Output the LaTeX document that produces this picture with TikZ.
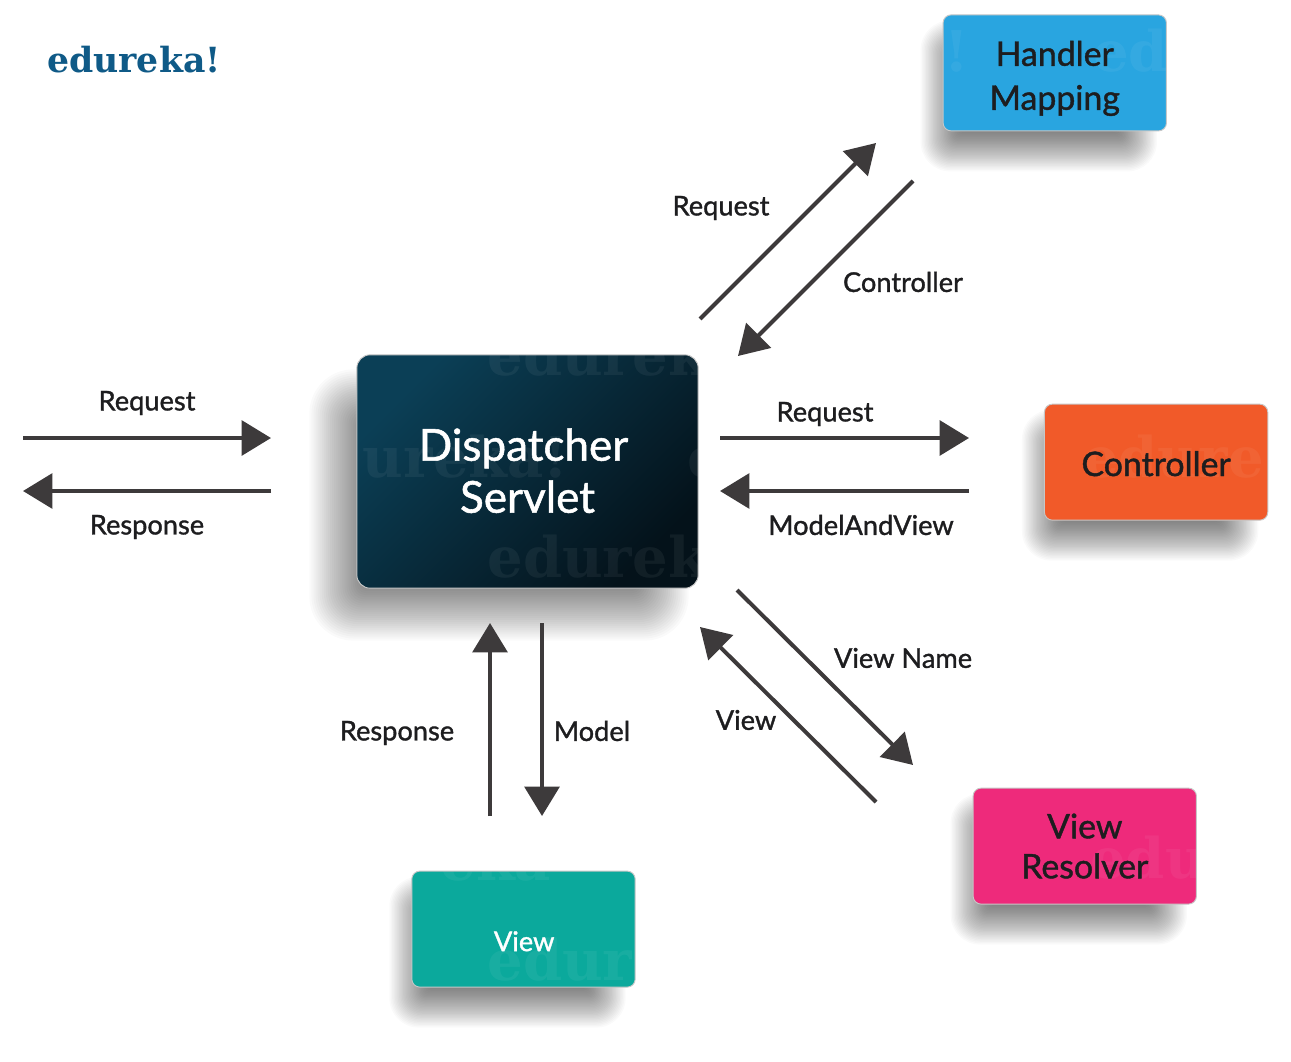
\documentclass[tikz,border=0pt]{standalone}
\usepackage{fontspec}
\usepackage{xcolor}
\usepackage{tikz}
\usetikzlibrary{arrows.meta,positioning,calc,backgrounds}
\setmainfont{Lato}[FakeBold=1.2]
\newfontfamily\slabfont{DejaVu Serif}[BoldFont={DejaVu Serif Bold}]
\definecolor{arrowgray}{HTML}{3D3A3B}
\definecolor{labelink}{HTML}{1D1D1F}
\definecolor{logoblue}{HTML}{0F5A87}
\definecolor{mapblue}{HTML}{29A5E0}
\definecolor{ctrlorange}{HTML}{F15A29}
\definecolor{resolvepink}{HTML}{EE2A7B}
\definecolor{viewteal}{HTML}{0BA99C}
\definecolor{dispA}{HTML}{0B3F56}
\definecolor{dispB}{HTML}{0A3549}
\definecolor{dispC}{HTML}{04121A}
% soft shadow: node, left/top/right/bottom offsets, blur
\newcommand{\softshadow}[6]{
  \foreach \i in {0,...,29}{
    \pgfmathsetmacro{\b}{#6*(1-\i/14.5)}
    \pgfmathsetmacro{\r}{max(3,(#6+\b)*.55)}
    \fill[black, opacity=.019, rounded corners=\r pt]
      ($(#1.north west)+(#2-\b,#3-\b)$) rectangle ($(#1.south east)+(#4+\b,#5+\b)$);
  }
}
% faint word clipped by its box
\newcommand{\wmark}[4]{\node[wm] (#1) at ($(path picture bounding box.center)+(#2,#3)$) {#4};}
\begin{document}
\begin{tikzpicture}[
  x=0.75pt, y=-0.75pt,
  box/.style={draw=white!78!black, line width=.7pt, rounded corners=6pt, align=center, font=\fontsize{25.4}{33}\selectfont, text=labelink, minimum width=167.5pt, minimum height=87pt, inner sep=0pt},
  wm/.style={font=\slabfont\bfseries\fontsize{42}{42}\selectfont, text=white, text opacity=.055, inner sep=0pt, anchor=base west, minimum width=0pt, minimum height=0pt, draw=none},
  lab/.style={font=\fontsize{20.4}{24}\selectfont, text=labelink, inner sep=0pt},
  ar/.style={-{Triangle[length=22pt, width=26pt]}, line width=3pt, draw=arrowgray}]
  \useasboundingbox (0,0) rectangle (1291,1062);
  \node[font=\slabfont\bfseries\fontsize{26}{26}\selectfont, text=logoblue, inner sep=0pt] (logo) at (134,60) {edureka!};
  % boxes
  \node[box, minimum width=256pt, minimum height=175pt, rounded corners=10pt, font=\fontsize{33}{39}\selectfont, text=white,
    top color=dispA, middle color=dispB, bottom color=dispC, shading angle=45,
    path picture={
      \wmark{dw1}{-40.5}{-96.5}{edurek}
      \wmark{dw2}{-40.5}{105.5}{edurek}
      \wmark{dw3}{-165}{5.5}{ureka!}
      \wmark{dw4}{160}{5.5}{e}
    }] (disp) at (527.5,471.5) {Dispatcher\hspace*{6pt}\\Servlet\rule[-1.5pt]{0pt}{1pt}};
  \node[box, fill=mapblue, above right=167.25pt and 183pt of disp,
    path picture={
      \wmark{hw1}{38}{-1}{ed}
      \wmark{hw2}{-111}{-1}{!}
    }] (hmap) {\rule{0pt}{27pt}Handler\\Mapping};
  \node[box, fill=ctrlorange, right=259pt of disp, yshift=7pt,
    path picture={\wmark{cw1}{-73.5}{15}{edure}}] (ctrl) {\rule{0pt}{21pt}Controller};
  \node[box, fill=resolvepink, below right=149.25pt and 205.5pt of disp,
    path picture={\wmark{rw1}{5}{32}{edu}}] (vres) {View\\[-3pt]Resolver};
  \node[box, fill=viewteal, below=211.5pt of disp, xshift=-3pt, font=\fontsize{20.4}{24}\selectfont, text=white,
    path picture={
      \wmark{vw1}{-36.5}{51}{edur}
      \wmark{vw2}{-83.5}{-49}{eka}
    }] (view) {\hspace*{1pt}\raisebox{-16.5pt}[0pt][0pt]{View}};
  % shadows
  \begin{scope}[on background layer]
    \fill[white] (0,0) rectangle (1291,1062);
    \softshadow{disp}{-17}{45}{-40}{22}{30}
    \softshadow{hmap}{-2}{26}{-30}{20}{20}
    \softshadow{ctrl}{-2}{26}{-30}{20}{20}
    \softshadow{vres}{-2}{26}{-30}{20}{20}
    \softshadow{view}{-2}{26}{-30}{20}{20}
  \end{scope}
  % arrow ends
  \coordinate (inA) at (23,438);
  \coordinate (inB) at (271,438);
  \coordinate (outA) at (271,491);
  \coordinate (outB) at (23,491);
  \coordinate (reqA) at (720,438);
  \coordinate (reqB) at (969,438);
  \coordinate (mavA) at (969,491);
  \coordinate (mavB) at (720,491);
  \coordinate (hreqA) at (700,319);
  \coordinate (hreqB) at (876,143);
  \coordinate (hctlA) at (913,181);
  \coordinate (hctlB) at (738,356);
  \coordinate (vnamA) at (737,590);
  \coordinate (vnamB) at (913,765);
  \coordinate (vretA) at (876,802);
  \coordinate (vretB) at (700,627);
  \coordinate (respA) at (490,816);
  \coordinate (respB) at (490,623);
  \coordinate (modlA) at (542,623);
  \coordinate (modlB) at (542,816);
  \draw[ar] (inA) -- (inB);
  \draw[ar] (outA) -- (outB);
  \draw[ar] (reqA) -- (reqB);
  \draw[ar] (mavA) -- (mavB);
  \draw[ar] (hreqA) -- (hreqB);
  \draw[ar] (hctlA) -- (hctlB);
  \draw[ar] (vnamA) -- (vnamB);
  \draw[ar] (vretA) -- (vretB);
  \draw[ar] (respA) -- (respB);
  \draw[ar] (modlA) -- (modlB);
  % labels
  \node[lab] (linreq) at (147,403) {Request};
  \node[lab] (linres) at (147,527) {Response};
  \node[lab] (lctreq) at (825,414) {Request};
  \node[lab] (lctmav) at (861,525) {ModelAndView};
  \node[lab] (lhmreq) at (721,208) {Request};
  \node[lab] (lhmctl) at (903,282) {Controller};
  \node[lab] (lvrnam) at (903,658) {View Name};
  \node[lab] (lvrvw) at (746,720) {View};
  \node[lab] (lvwres) at (397,733) {Response};
  \node[lab] (lvwmod) at (592,731) {Model};
\end{tikzpicture}
\end{document}
